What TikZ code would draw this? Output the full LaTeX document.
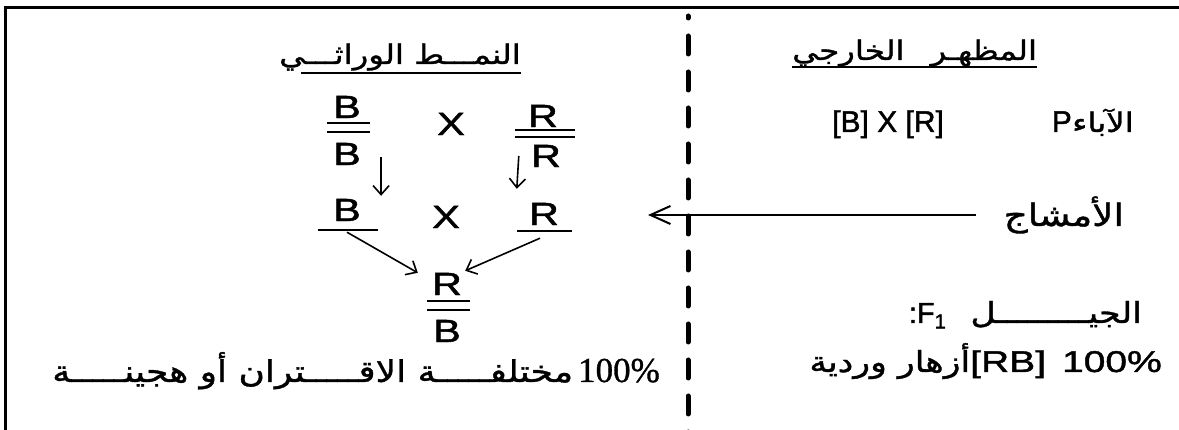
\documentclass[tikz,border=0pt]{standalone}
\usepackage{fontspec}
\setmainfont[FakeBold=1.5]{Liberation Sans}
\newfontfamily\arabicfont[Script=Arabic, FakeStretch=1.2, FakeBold=1.2]{DejaVu Sans}
\newfontfamily\widefont[FakeStretch=1.3, FakeBold=1.5]{Liberation Sans}
\newfontfamily\numfont[FakeBold=1]{Liberation Serif}
\TeXXeTstate=1
\usetikzlibrary{arrows.meta}
\newcommand{\arab}[1]{{\arabicfont\beginR #1\endR}}

\tikzset{
  gene/.style={font=\widefont\fontsize{32}{32}\selectfont, inner sep=0pt},
  lat/.style={font=\fontsize{30}{30}\selectfont, inner sep=0pt},
  ar/.style={font=\arabicfont\fontsize{27}{30}\selectfont, inner sep=0pt},
  bar/.style={line width=2.5pt},
  descend/.style={-{Straight Barb[length=9pt,width=16pt]}, line width=1.6pt},
  divider/.style={line width=5pt, dash pattern=on 18pt off 18pt, dash phase=16pt, line cap=round},
}

\begin{document}
\begin{tikzpicture}[x=1pt,y=-1pt]
    \useasboundingbox (0,0) rectangle (1179,430);
    \clip (0,0) rectangle (1179,430);
    \draw[line width=3pt] (5,440) -- (5,8) -- (1179,8);
    \draw[divider] (688,16) -- (688,440);

    % genotype side
    \node[ar, anchor=base] (hgeno) at (400,64) {\beginR النمـــط الوراثـــي\endR};
    \draw[line width=1.5pt] ([xshift=22pt,yshift=-9pt]hgeno.base west) -- ([yshift=-9pt]hgeno.base east);

    \node[gene] (pbt) at (347,107) {B};
    \node[gene] (pbb) at (347,154) {B};
    \draw[bar] (327,123) -- (370,123) (327,132) -- (370,132);
    \node[gene] (px) at (451,124) {X};
    \node[gene] (prt) at (543,116) {R};
    \node[gene] (prb) at (546,156) {R};
    \draw[bar] (515,130) -- (575,130) (515,137) -- (575,137);

    \node[gene] (gb) at (347,210) {B};
    \node[gene] (gx) at (446,217) {X};
    \node[gene] (gr) at (544,214) {R};
    \draw[bar] (318,230) -- (378,230) (517,231) -- (572,231);

    \node[gene] (fr) at (447,284) {R};
    \node[gene] (fb) at (447,331) {B};
    \draw[bar] (427,301) -- (470,301) (427,310) -- (470,310);

    \draw[descend] ([xshift=20pt,yshift=-3pt]pbb.east) -- ([xshift=20pt,yshift=3pt]gb.north east);
    \draw[descend] ([xshift=-12pt]prb.west) -- ([xshift=-12pt,yshift=14pt]gr.north west);
    \draw[descend] ([yshift=-11pt]gb.south) -- ([xshift=-14pt]fr.north west);
    \draw[descend] ([xshift=-4pt,yshift=-13pt]gr.south) -- ([xshift=3pt,yshift=2pt]fr.north east);

    \node[inner sep=0pt, anchor=base east, font=\fontsize{30}{34}\selectfont] (f1geno) at (660,382)
        {\arab{مختلفـــــة الاقـــــتران أو هجينـــــة}\,{\numfont\fontsize{35}{35}\selectfont 100\%}};

    % phenotype side
    \node[ar, anchor=base west] (hpheno) at (792,60) {\beginR المظهـر\hspace{26pt}الخارجي\endR};
    \draw[line width=1.5pt] ([yshift=-7pt]hpheno.base west) -- ([yshift=-7pt]hpheno.base east);

    \node[lat, anchor=base west] (pcross) at (832,132) {[B] X [R]};
    \node[lat, anchor=base east] (pp) at (1072,132) {P};
    \node[ar, anchor=base west] (pname) at (pp.base east) {\beginR الآباء\endR};

    \node[ar, anchor=base east, font=\arabicfont\fontsize{31}{34}\selectfont] (gam) at (1124,226) {\beginR الأمشاج\endR};
    \coordinate (gtip) at (648,218);
    \draw[-{Straight Barb[length=20pt,width=18pt]}, line width=2pt] ([xshift=-28pt]gam.west) -- (gtip |- gam.west);

    \node[inner sep=0pt, anchor=base east, font=\fontsize{29}{30}\selectfont] (f1) at (1142,323)
        {:F\textsubscript{1}\hspace{24pt}{\fontsize{29}{32}\selectfont\arab{الجيـــــــــل}}};
    \node[inner sep=0pt, anchor=base east, font=\widefont\fontsize{30}{30}\selectfont] (f1pheno) at (1162,372)
        {{\fontsize{29}{32}\selectfont\arab{أزهار وردية}}[RB]\hspace{16pt}100\%};
\end{tikzpicture}
\end{document}
